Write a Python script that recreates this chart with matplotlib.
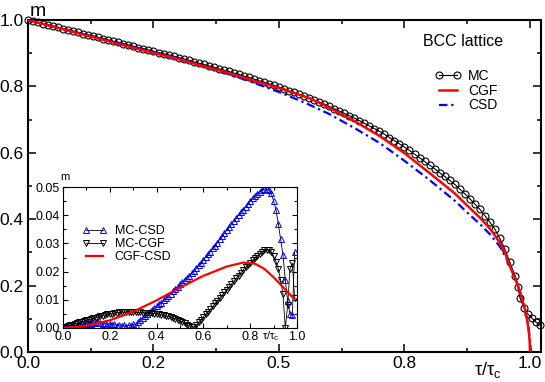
import numpy as np
import matplotlib
matplotlib.use("Agg")
import matplotlib.pyplot as plt
from matplotlib.ticker import MultipleLocator, FormatStrFormatter

plt.rcParams['font.family'] = ['Liberation Sans', 'DejaVu Sans']
plt.rcParams['mathtext.fontset'] = 'custom'
plt.rcParams['mathtext.rm'] = 'Liberation Sans'
plt.rcParams['mathtext.it'] = 'Liberation Sans:italic'

# main panel: magnetisation m vs tau/tau_c
tau_mc = list(np.round(np.arange(0, 0.975, 0.01), 2)) + [0.976, 0.980, 0.988, 0.996, 1.004, 1.012, 1.020]
m_mc = [1.000, 0.996, 0.993, 0.989, 0.986, 0.982, 0.978, 0.974, 0.971, 0.967,
        0.963, 0.959, 0.955, 0.952, 0.948, 0.944, 0.940, 0.936, 0.933, 0.929,
        0.925, 0.921, 0.917, 0.914, 0.910, 0.906, 0.902, 0.898, 0.895, 0.891,
        0.887, 0.883, 0.879, 0.874, 0.870, 0.866, 0.862, 0.858, 0.853, 0.849,
        0.845, 0.840, 0.836, 0.831, 0.827, 0.822, 0.817, 0.813, 0.808, 0.803,
        0.798, 0.793, 0.787, 0.782, 0.776, 0.771, 0.765, 0.759, 0.753, 0.747,
        0.740, 0.733, 0.726, 0.719, 0.712, 0.705, 0.697, 0.689, 0.681, 0.673,
        0.665, 0.656, 0.646, 0.637, 0.627, 0.617, 0.607, 0.596, 0.585, 0.574,
        0.563, 0.552, 0.540, 0.529, 0.517, 0.505, 0.491, 0.477, 0.462, 0.446,
        0.430, 0.411, 0.391, 0.370, 0.342, 0.310, 0.270, 0.230,
        0.196, 0.163, 0.133, 0.114, 0.102, 0.090, 0.081]

tau_cgf = [0, 0.1, 0.2, 0.3, 0.4, 0.5, 0.56, 0.6, 0.65, 0.7, 0.75, 0.8, 0.85, 0.88,
           0.9, 0.92, 0.94, 0.95, 0.96, 0.97, 0.98, 0.99, 0.995, 0.998, 0.9995, 1.0]
m_cgf = [1.0, 0.960, 0.920, 0.882, 0.840, 0.795, 0.765, 0.736, 0.696, 0.651, 0.599, 0.539, 0.478, 0.434,
         0.405, 0.372, 0.330, 0.300, 0.258, 0.223, 0.182, 0.129, 0.091, 0.058, 0.029, 0.0]

tau_csd = [0, 0.1, 0.2, 0.3, 0.35, 0.4, 0.45, 0.5, 0.55, 0.6, 0.65, 0.7, 0.75, 0.8, 0.85,
           0.88, 0.9, 0.92, 0.94, 0.96, 0.97, 0.98, 0.99, 0.995, 0.999, 1.002]
m_csd = [1.0, 0.961, 0.923, 0.885, 0.862, 0.837, 0.811, 0.783, 0.752, 0.717, 0.675, 0.630, 0.576, 0.518, 0.456,
         0.413, 0.386, 0.355, 0.318, 0.262, 0.226, 0.183, 0.129, 0.094, 0.050, 0.0]

# inset: differences
tau_diff = list(np.round(np.arange(0, 0.995, 0.01), 2))
d_mc_csd = [0.0000, 0.0003, 0.0005, 0.0006, 0.0009, 0.0010, 0.0008, 0.0012, 0.0014, 0.0011,
            0.0015, 0.0017, 0.0013, 0.0018, 0.0020, 0.0016, 0.0019, 0.0014, 0.0017, 0.0012,
            0.0015, 0.0010, 0.0013, 0.0008, 0.0011, 0.0006, 0.0009, 0.0005, 0.0010, 0.0008,
            0.0013, 0.0011, 0.0020, 0.0028, 0.0036, 0.0044, 0.0050, 0.0057, 0.0064, 0.0070,
            0.0077, 0.0084, 0.0090, 0.0098, 0.0106, 0.0113, 0.0121, 0.0130, 0.0138, 0.0147,
            0.0155, 0.0162, 0.0170, 0.0178, 0.0186, 0.0194, 0.0203, 0.0212, 0.0222, 0.0231,
            0.0241, 0.0251, 0.0261, 0.0271, 0.0282, 0.0292, 0.0303, 0.0314, 0.0325, 0.0336,
            0.0347, 0.0357, 0.0368, 0.0379, 0.0389, 0.0400, 0.0410, 0.0420, 0.0430, 0.0440,
            0.0450, 0.0460, 0.0468, 0.0476, 0.0484, 0.0490, 0.0492, 0.0492, 0.0490, 0.0478,
            0.0450, 0.0420, 0.0370, 0.0315, 0.0260, 0.0170, 0.0095, 0.0050, 0.0045, 0.0270]
d_mc_cgf = [0.0000, 0.0004, 0.0007, 0.0009, 0.0012, 0.0015, 0.0017, 0.0020, 0.0022, 0.0025,
            0.0027, 0.0030, 0.0032, 0.0035, 0.0037, 0.0040, 0.0042, 0.0044, 0.0046, 0.0048,
            0.0049, 0.0051, 0.0053, 0.0054, 0.0055, 0.0056, 0.0056, 0.0057, 0.0056, 0.0056,
            0.0055, 0.0056, 0.0055, 0.0055, 0.0054, 0.0054, 0.0053, 0.0052, 0.0052, 0.0051,
            0.0050, 0.0048, 0.0047, 0.0045, 0.0043, 0.0041, 0.0038, 0.0035, 0.0032, 0.0029,
            0.0025, 0.0021, 0.0017, 0.0012, 0.0008, 0.0004, 0.0003, 0.0010, 0.0020, 0.0030,
            0.0040, 0.0049, 0.0058, 0.0067, 0.0077, 0.0087, 0.0097, 0.0107, 0.0117, 0.0126,
            0.0136, 0.0146, 0.0156, 0.0166, 0.0176, 0.0186, 0.0196, 0.0206, 0.0215, 0.0224,
            0.0232, 0.0240, 0.0248, 0.0256, 0.0264, 0.0270, 0.0275, 0.0277, 0.0276, 0.0270,
            0.0255, 0.0235, 0.0210, 0.0170, 0.0120, 0.0000, 0.0080, 0.0210, 0.0230, 0.0105]
tau_cgf_csd = [0, 0.1, 0.2, 0.3, 0.4, 0.5, 0.6, 0.7, 0.77, 0.82, 0.86, 0.9, 0.94, 0.98, 0.99]
d_cgf_csd = [0, 0.0008, 0.0027, 0.0058, 0.0098, 0.0143, 0.0185, 0.0218, 0.0232, 0.0228,
             0.0210, 0.0180, 0.0145, 0.0110, 0.0105]

fig = plt.figure(figsize=(5.45, 3.82), dpi=100)
ax = fig.add_axes([28/545, 30/382, 513/545, 332/382])

ax.plot(tau_mc, m_mc, '-o', color='black', lw=0.8, ms=5, mfc='none', mew=0.8,
        label='MC', clip_on=False, zorder=2)
ax.plot(tau_csd, m_csd, color='#0000ff', lw=1.6, dashes=(3.8, 1.7, 1.0, 1.7), label='CSD', zorder=3)
ax.plot(tau_cgf, m_cgf, color='#ff0000', lw=1.8, label='CGF', zorder=4)

ax.set_xlim(0, 1.022)
ax.set_ylim(0, 1.0)
ax.xaxis.set_major_locator(MultipleLocator(0.25))
ax.xaxis.set_minor_locator(MultipleLocator(0.125))
ax.xaxis.set_major_formatter(FormatStrFormatter('%.1f'))
ax.yaxis.set_major_locator(MultipleLocator(0.2))
ax.yaxis.set_minor_locator(MultipleLocator(0.1))
ax.yaxis.set_major_formatter(FormatStrFormatter('%.1f'))
ax.tick_params(which='both', direction='in', top=True, right=True, width=1.1, labelsize=12.5, pad=3)
ax.tick_params(which='major', length=6)
ax.tick_params(which='minor', length=3)
for s in ax.spines.values():
    s.set_linewidth(1.5)

handles, labels = ax.get_legend_handles_labels()
order = [0, 2, 1]
ax.legend([handles[i] for i in order], [labels[i] for i in order],
          loc='upper left', bbox_to_anchor=(435/545, 1 - 69/382), bbox_transform=fig.transFigure,
          frameon=False, fontsize=10, numpoints=2, handlelength=1.9, handletextpad=0.5,
          labelspacing=0.05, borderpad=0, borderaxespad=0)

fig.text(30/545, 1 - 16/382, 'm', fontsize=14, va='baseline')
fig.text(474/545, 1 - 375/382, 'τ/τ$_\\mathrm{c}$', fontsize=13, va='baseline')
fig.text(423/545, 1 - 46/382, 'BCC lattice', fontsize=11.5, va='baseline')

# inset
ins = fig.add_axes([63/545, 54/382, 234/545, 141/382])
ins.plot(tau_diff, d_mc_csd, '-^', color='black', lw=0.6, ms=5, mfc='none', mec='#0000ff',
         mew=0.7, label='MC-CSD')
ins.plot(tau_diff, d_mc_cgf, '-v', color='black', lw=0.6, ms=5, mfc='none', mec='black',
         mew=0.7, label='MC-CGF')
ins.plot(tau_cgf_csd, d_cgf_csd, color='#ff0000', lw=1.6, label='CGF-CSD')
ins.set_xlim(0, 1.0)
ins.set_ylim(0, 0.05)
ins.xaxis.set_major_locator(MultipleLocator(0.2))
ins.xaxis.set_minor_locator(MultipleLocator(0.1))
ins.xaxis.set_major_formatter(FormatStrFormatter('%.1f'))
ins.yaxis.set_major_locator(MultipleLocator(0.01))
ins.yaxis.set_minor_locator(MultipleLocator(0.005))
ins.yaxis.set_major_formatter(FormatStrFormatter('%.2f'))
ins.tick_params(which='both', direction='in', top=True, right=True, width=0.8, labelsize=9, pad=2)
ins.tick_params(which='major', length=3.5)
ins.tick_params(which='minor', length=2)
for s in ins.spines.values():
    s.set_linewidth(0.8)
ins.legend(loc='upper left', bbox_to_anchor=(82/545, 1 - 225/382), bbox_transform=fig.transFigure,
           frameon=False, fontsize=9, numpoints=2, handlelength=2.0, handletextpad=0.6,
           labelspacing=0.1, borderpad=0, borderaxespad=0)
fig.text(60/545, 1 - 180/382, 'm', fontsize=8, va='baseline')
fig.text(262/545, 1 - 339/382, 'τ/τ$_\\mathrm{c}$', fontsize=8, va='baseline')

fig.savefig('out.png', dpi=100)
